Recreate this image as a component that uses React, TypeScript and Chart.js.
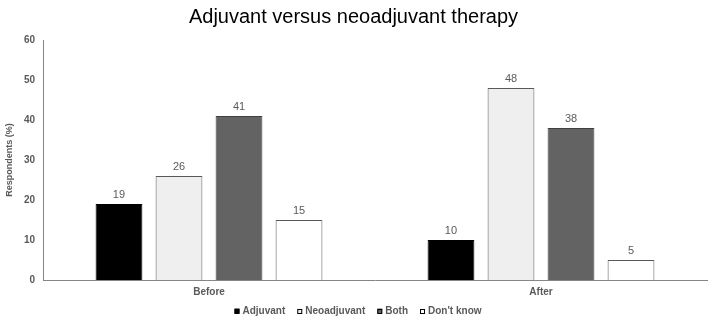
import React, { useEffect, useRef } from "react";
import { Chart, registerables } from "chart.js";

Chart.register(...registerables);

const categories = ["Before", "After"];
const seriesNames = ["Adjuvant", "Neoadjuvant", "Both", "Don't know"];
const adjuvant = [19, 10];
const neoadjuvant = [26, 48];
const both = [41, 38];
const dontKnow = [15, 5];
const yTickMin = 0;
const yTickMax = 60;
const yTickStep = 10;

const FONT = "'Liberation Sans', Arial, Helvetica, sans-serif";
const GRAY = "#595959";

const valueLabels = {
  id: "valueLabels",
  afterDatasetsDraw(chart: any) {
    const ctx = chart.ctx;
    ctx.save();
    ctx.font = `11px ${FONT}`;
    ctx.fillStyle = GRAY;
    ctx.textAlign = "center";
    ctx.textBaseline = "bottom";
    chart.data.datasets.forEach((ds: any, i: number) => {
      const meta = chart.getDatasetMeta(i);
      meta.data.forEach((el: any, j: number) => {
        ctx.fillText(String(ds.data[j]), el.x, el.y - 4);
      });
    });
    ctx.restore();
  },
};

const customLegend = {
  id: "customLegend",
  afterDraw(chart: any) {
    const ctx = chart.ctx;
    const box = 5;
    const gapBoxText = 3;
    const gapItems = 12;
    ctx.save();
    ctx.font = `bold 10px ${FONT}`;
    const items = chart.data.datasets.map((ds: any) => ({
      text: ds.label,
      fill: ds.backgroundColor,
      w: ctx.measureText(ds.label).width,
    }));
    const total =
      items.reduce((s: number, it: any) => s + box + gapBoxText + it.w, 0) +
      gapItems * (items.length - 1);
    let x = chart.width / 2 + 4 - total / 2;
    const y = chart.height - 8;
    ctx.textBaseline = "middle";
    ctx.textAlign = "left";
    items.forEach((it: any) => {
      ctx.fillStyle = it.fill;
      ctx.fillRect(x, y - box / 2, box, box);
      ctx.strokeStyle = "#000000";
      ctx.lineWidth = 1;
      ctx.strokeRect(x + 0.5, Math.round(y - box / 2) + 0.5, box - 1, box - 1);
      ctx.fillStyle = GRAY;
      ctx.fillText(it.text, x + box + gapBoxText, y);
      x += box + gapBoxText + it.w + gapItems;
    });
    ctx.restore();
  },
};

export default function App() {
  const ref = useRef<HTMLCanvasElement | null>(null);
  useEffect(() => {
    document.body.style.margin = "0";
    if (!ref.current) return;
    const mk = (label: string, data: number[], bg: string, border: string) => ({
      label,
      data,
      backgroundColor: bg,
      borderColor: border,
      borderWidth: 1,
      categoryPercentage: 0.723,
      barPercentage: 0.78,
    });
    const chart = new Chart(ref.current, {
      type: "bar",
      data: {
        labels: categories,
        datasets: [
          mk(seriesNames[0], adjuvant, "#000000", "#000000"),
          mk(seriesNames[1], neoadjuvant, "#efefef", "#595959"),
          mk(seriesNames[2], both, "#636363", "#404040"),
          mk(seriesNames[3], dontKnow, "#ffffff", "#595959"),
        ],
      },
      options: {
        animation: false,
        responsive: true,
        maintainAspectRatio: false,
        layout: { padding: { left: 0, right: 1, top: 0, bottom: 16 } },
        plugins: {
          tooltip: { enabled: false },
          legend: { display: false },
          title: {
            display: true,
            text: "Adjuvant versus neoadjuvant therapy",
            color: "#000000",
            font: { family: FONT, size: 20, weight: "normal" },
            padding: { top: 5, bottom: 11 },
          },
        },
        scales: {
          x: {
            grid: { display: false, drawTicks: false },
            border: { display: true, color: "#868686", width: 1 },
            ticks: {
              color: GRAY,
              font: { family: FONT, size: 10, weight: "bold" },
              padding: 6,
            },
            afterFit: (scale: any) => {
              scale.height = 23;
            },
          },
          y: {
            min: yTickMin,
            max: yTickMax,
            grid: { display: false, drawTicks: false },
            border: { display: true, color: "#868686", width: 1 },
            ticks: {
              stepSize: yTickStep,
              color: GRAY,
              font: { family: FONT, size: 10, weight: "bold" },
              padding: 8,
            },
            title: {
              display: true,
              text: "Respondents (%)",
              color: GRAY,
              font: { family: FONT, size: 9, weight: "bold" },
              padding: { top: 4, bottom: 6 },
            },
            afterFit: (scale: any) => {
              scale.width = 43;
            },
          },
        },
      },
      plugins: [valueLabels, customLegend],
    });
    return () => chart.destroy();
  }, []);
  return (
    <div style={{ width: 708, height: 319, position: "relative", background: "#ffffff" }}>
      <canvas ref={ref} />
    </div>
  );
}
